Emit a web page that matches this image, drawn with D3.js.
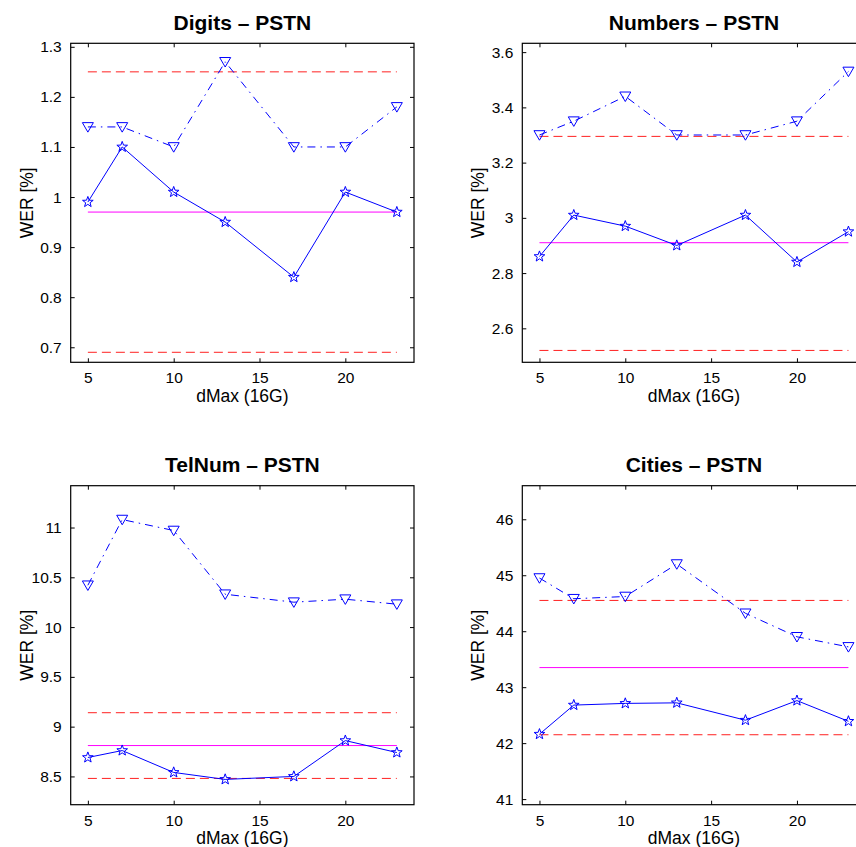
<!DOCTYPE html>
<html>
<head>
<meta charset="utf-8">
<script src="https://cdn.jsdelivr.net/npm/d3@7"></script>
<style>
  html, body { margin: 0; padding: 0; background: #fff; }
  svg { display: block; }
  text { font-family: "Liberation Sans", Arial, Helvetica, sans-serif; fill: #000; }
</style>
</head>
<body>
<svg id="chart" width="856" height="847"></svg>
<script>
// ---------- data ----------
const dMax = [5, 7, 10, 13, 17, 20, 23];
const xTicks = [5, 10, 15, 20];

const titles = ["Digits \u2013 PSTN", "Numbers \u2013 PSTN", "TelNum \u2013 PSTN", "Cities \u2013 PSTN"];

const starDigits   = [0.99, 1.10, 1.01, 0.95, 0.84, 1.01, 0.97];
const triDigits    = [1.14, 1.14, 1.10, 1.27, 1.10, 1.10, 1.18];
const starNumbers  = [2.86, 3.01, 2.97, 2.90, 3.01, 2.84, 2.95];
const triNumbers   = [3.30, 3.35, 3.44, 3.30, 3.30, 3.35, 3.53];
const starTelNum   = [8.69, 8.76, 8.54, 8.47, 8.50, 8.86, 8.74];
const triTelNum    = [10.42, 11.08, 10.97, 10.33, 10.25, 10.28, 10.23];
const starCities   = [42.16, 42.68, 42.71, 42.72, 42.41, 42.76, 42.39];
const triCities    = [44.95, 44.58, 44.62, 45.20, 44.32, 43.90, 43.72];

const baselineMagenta = [0.97, 2.91, 8.81, 43.35];
const redUpper        = [1.25, 3.295, 9.14, 44.55];
const redLower        = [0.69, 2.52, 8.48, 42.15];

const yDomains = [[0.67, 1.307], [2.477, 3.632], [8.216, 11.42], [40.9, 46.6]];
const yTicks = [
  [0.7, 0.8, 0.9, 1.0, 1.1, 1.2, 1.3],
  [2.6, 2.8, 3.0, 3.2, 3.4, 3.6],
  [8.5, 9, 9.5, 10, 10.5, 11],
  [41, 42, 43, 44, 45, 46]
];
const starSeries = [starDigits, starNumbers, starTelNum, starCities];
const triSeries  = [triDigits, triNumbers, triTelNum, triCities];

// ---------- layout ----------
const panelPos = [
  {left: 70.7, top: 43.3},
  {left: 522.3, top: 43.3},
  {left: 70.7, top: 485.7},
  {left: 522.3, top: 485.7}
];
const PW = 343.3, PH = 319;

const svg = d3.select("#chart");

function starPath(R, r) {
  const pts = [];
  for (let i = 0; i < 10; i++) {
    const a = -Math.PI / 2 + i * Math.PI / 5;
    const rad = i % 2 === 0 ? R : r;
    pts.push([rad * Math.cos(a), rad * Math.sin(a)]);
  }
  return "M" + pts.map(p => p[0].toFixed(2) + "," + p[1].toFixed(2)).join("L") + "Z";
}
const STAR = starPath(5.6, 2.3);
const TRI = "M-5.5,-4.3L5.5,-4.3L0,5.2Z";

const fmt = d => String(+d.toFixed(2));

for (let p = 0; p < 4; p++) {
  const pos = panelPos[p];
  const g = svg.append("g").attr("transform", `translate(${pos.left},${pos.top})`);
  const x = d3.scaleLinear().domain([4, 24]).range([0, PW]);
  const y = d3.scaleLinear().domain(yDomains[p]).range([PH, 0]);

  // axes (ticks inside, mirrored)
  const tickLen = 4;
  const axB = d3.axisBottom(x).tickValues(xTicks).tickFormat(fmt).tickSizeInner(-tickLen).tickSizeOuter(0).tickPadding(10);
  const axT = d3.axisTop(x).tickValues(xTicks).tickFormat("").tickSizeInner(-tickLen).tickSizeOuter(0);
  const axL = d3.axisLeft(y).tickValues(yTicks[p]).tickFormat(fmt).tickSizeInner(-tickLen).tickSizeOuter(0).tickPadding(9);
  const axR = d3.axisRight(y).tickValues(yTicks[p]).tickFormat("").tickSizeInner(-tickLen).tickSizeOuter(0);

  const styleAxis = sel => {
    sel.select(".domain").remove();
    sel.selectAll(".tick line").attr("stroke", "#000").attr("stroke-width", 1);
    sel.selectAll(".tick text").style("font-size", "15.5px").attr("fill", "#000");
  };
  g.append("g").attr("transform", `translate(0,${PH})`).call(axB).call(styleAxis);
  g.append("g").call(axT).call(styleAxis);
  g.append("g").call(axL).call(styleAxis);
  g.append("g").attr("transform", `translate(${PW},0)`).call(axR).call(styleAxis);

  // reference lines
  const xs = [dMax[0], dMax[dMax.length - 1]];
  const hline = (val, color, dash) => g.append("line")
    .attr("x1", x(xs[0])).attr("x2", x(xs[1]))
    .attr("y1", y(val)).attr("y2", y(val))
    .attr("stroke", color).attr("stroke-width", 1)
    .attr("stroke-dasharray", dash || null);
  hline(redUpper[p], "#ff2020", "9,5");
  hline(redLower[p], "#ff2020", "9,5");
  hline(baselineMagenta[p], "#ff00ff", null);

  const line = d3.line().x((d, i) => x(dMax[i])).y(d => y(d));

  // dash-dot triangle series
  g.append("path").datum(triSeries[p]).attr("d", line)
    .attr("fill", "none").attr("stroke", "#0000ff").attr("stroke-width", 1)
    .attr("stroke-dasharray", "8,5,1.5,5");
  g.selectAll(".tri").data(triSeries[p]).enter().append("path")
    .attr("transform", (d, i) => `translate(${x(dMax[i])},${y(d)})`)
    .attr("d", TRI).attr("fill", "none").attr("stroke", "#0000ff").attr("stroke-width", 1);

  // solid star series
  g.append("path").datum(starSeries[p]).attr("d", line)
    .attr("fill", "none").attr("stroke", "#0000ff").attr("stroke-width", 1);
  g.selectAll(".star").data(starSeries[p]).enter().append("path")
    .attr("transform", (d, i) => `translate(${x(dMax[i])},${y(d)})`)
    .attr("d", STAR).attr("fill", "none").attr("stroke", "#0000ff").attr("stroke-width", 1);

  // box
  g.append("rect").attr("x", 0).attr("y", 0).attr("width", PW).attr("height", PH)
    .attr("fill", "none").attr("stroke", "#000").attr("stroke-width", 1.2);

  // title
  g.append("text").attr("x", PW / 2).attr("y", -13.5).attr("text-anchor", "middle")
    .style("font-size", "21px").style("font-weight", "bold").text(titles[p]);
  // x label
  g.append("text").attr("x", x(14)).attr("y", PH + 39.5).attr("text-anchor", "middle")
    .style("font-size", "17.5px").text("dMax (16G)");
  // y label
  g.append("text").attr("transform", `translate(${-38},${PH / 2}) rotate(-90)`)
    .attr("text-anchor", "middle").style("font-size", "17.5px").text("WER [%]");
}
</script>
</body>
</html>
